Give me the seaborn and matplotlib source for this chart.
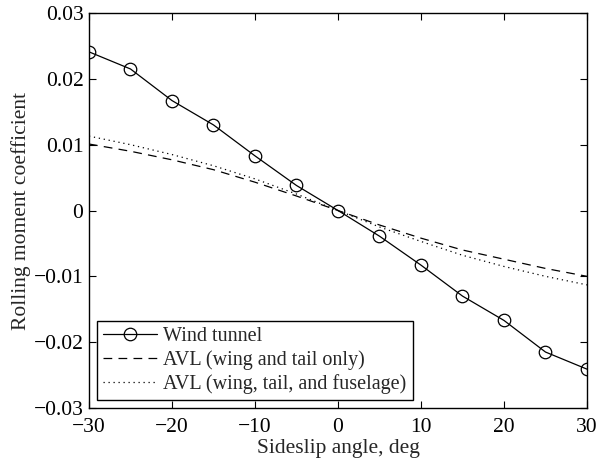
import numpy as np
import pandas as pd
import matplotlib
matplotlib.use("Agg")
import matplotlib.pyplot as plt
import seaborn as sns

# Sideslip sweep and rolling moment coefficient for each source
beta_deg = [-30, -25, -20, -15, -10, -5, 0, 5, 10, 15, 20, 25, 30]
cl_wind_tunnel = [0.0241, 0.0215, 0.0167, 0.0130, 0.0083, 0.0038, 0.0,
                  -0.0039, -0.0083, -0.0130, -0.0167, -0.0215, -0.0241]
cl_avl_wing_tail = [0.0101, 0.0090, 0.0077, 0.0062, 0.0043, 0.0022, 0.0,
                    -0.0022, -0.0042, -0.0060, -0.0074, -0.0088, -0.0100]
cl_avl_full = [0.0113, 0.0100, 0.0085, 0.0068, 0.0048, 0.0025, 0.0,
               -0.0025, -0.0047, -0.0068, -0.0085, -0.0100, -0.0113]

labels = ["Wind tunnel", "AVL (wing and tail only)", "AVL (wing, tail, and fuselage)"]
xticks = [-30, -20, -10, 0, 10, 20, 30]
yticks = [-0.03, -0.02, -0.01, 0, 0.01, 0.02, 0.03]
ytick_labels = ["\u22120.03", "\u22120.02", "\u22120.01", "0", "0.01", "0.02", "0.03"]
xtick_labels = ["\u221230", "\u221220", "\u221210", "0", "10", "20", "30"]

sns.set_theme(style="ticks")
plt.rcParams["font.family"] = ["Liberation Serif", "DejaVu Serif"]
plt.rcParams["mathtext.fontset"] = "stix"

fig = plt.figure(figsize=(5.98, 4.63), dpi=100)
ax = fig.add_axes([0.1488, 0.1188, 0.8328, 0.8531])

df_wt = pd.DataFrame({"beta": beta_deg, "cl": cl_wind_tunnel})
df_a1 = pd.DataFrame({"beta": beta_deg, "cl": cl_avl_wing_tail})
df_a2 = pd.DataFrame({"beta": beta_deg, "cl": cl_avl_full})

sns.lineplot(data=df_wt, x="beta", y="cl", ax=ax, color="black", lw=0.9,
             marker="o", markersize=9, markerfacecolor="none",
             markeredgecolor="black", markeredgewidth=0.9, label=labels[0])
sns.lineplot(data=df_a1, x="beta", y="cl", ax=ax, color="black", lw=0.9,
             dashes=False, label=labels[1])
sns.lineplot(data=df_a2, x="beta", y="cl", ax=ax, color="black", lw=0.9,
             dashes=False, label=labels[2])
ax.lines[1].set_linestyle((0, (7, 5)))
ax.lines[2].set_linestyle((0, (1, 3)))

ax.set_xlim(-30, 30)
ax.set_ylim(-0.03, 0.03)
ax.set_xticks(xticks)
ax.set_xticklabels(xtick_labels)
ax.set_yticks(yticks)
ax.set_yticklabels(ytick_labels)
ax.tick_params(direction="in", top=True, right=True, length=5, width=0.8,
               labelsize=15.5, colors="black", pad=4)
ax.tick_params(axis="x", pad=7)
for s in ax.spines.values():
    s.set_visible(True)
    s.set_linewidth(1.0)
    s.set_color("black")

ax.set_xlabel("Sideslip angle, deg", fontsize=15.5, labelpad=2)
ax.set_ylabel("Rolling moment coefficient", fontsize=15.5, labelpad=2)

leg = ax.legend(loc="lower left", fontsize=14.5, frameon=True, fancybox=False,
                edgecolor="black", framealpha=1, handlelength=2.7,
                borderpad=0.3, labelspacing=0.2, handletextpad=0.3,
                borderaxespad=0.4)
leg.get_frame().set_linewidth(1.0)

fig.savefig("out.png", dpi=100)
